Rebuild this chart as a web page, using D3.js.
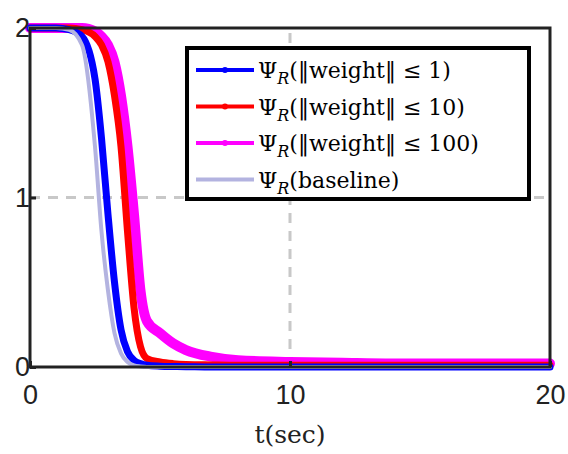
<!DOCTYPE html><html><head><meta charset="utf-8"><script src="https://cdn.jsdelivr.net/npm/d3@7"></script>
<style>body{margin:0;background:#fff}</style></head><body><svg width="568" height="454"></svg>
<script>
const T=[0,0.5,1,1.5,2,2.5,2.75,3,3.25,3.5,3.75,4,4.25,4.5,5,5.5,6,7,8,10,12,15,20];
const baseline=[2,2,2,1.99,1.9,1.3,0.8,0.45,0.2,0.08,0.03,0.01,0.003,0,0,0,0,0,0,0,0,0,0];
const w1=[2,2,2,1.99,1.95,1.7,1.35,0.9,0.5,0.22,0.09,0.04,0.02,0.01,0.005,0.003,0.002,0,0,0,0,0,0];
const w10=[2,2,2,2,1.99,1.95,1.9,1.8,1.6,1.3,0.8,0.35,0.12,0.05,0.03,0.02,0.015,0.012,0.01,0.01,0.01,0.01,0.01];
const w100=[2,2,2,2,2,1.98,1.95,1.9,1.8,1.6,1.3,0.9,0.45,0.27,0.2,0.14,0.1,0.06,0.04,0.03,0.025,0.02,0.02];
const xTicks=[0,10,20], yTicks=[0,1,2];
const series=[
 {name:"(‖weight‖ ≤ 1)",v:w1,c:"#0000ff",w:7},
 {name:"(‖weight‖ ≤ 10)",v:w10,c:"#ff0000",w:7},
 {name:"(‖weight‖ ≤ 100)",v:w100,c:"#ff00ff",w:10},
 {name:"(baseline)",v:baseline,c:"#b3b3e0",w:4}];
const SERIF="DejaVu Serif";
const svg=d3.select("svg");
const x=d3.scaleLinear().domain([0,20]).range([30,550]);
const y=d3.scaleLinear().domain([0,2]).range([367,28]);
svg.append("line").attr("x1",x(0)).attr("x2",x(20)).attr("y1",y(1)).attr("y2",y(1)).attr("stroke","#c8c8c8").attr("stroke-width",3).attr("stroke-dasharray","10,8");
svg.append("line").attr("x1",x(10)).attr("x2",x(10)).attr("y1",y(0)).attr("y2",y(2)).attr("stroke","#c8c8c8").attr("stroke-width",3).attr("stroke-dasharray","10,8");
const line=d3.line().x((d,i)=>x(T[i])).y(d=>y(d)).curve(d3.curveMonotoneX);
[2,1,0,3].forEach(k=>{const s=series[k];svg.append("path").attr("d",line(s.v)).attr("fill","none").attr("stroke",s.c).attr("stroke-width",s.w).attr("stroke-linejoin","round").attr("stroke-linecap","round");});
svg.append("rect").attr("x",x(0)).attr("y",y(2)).attr("width",x(20)-x(0)).attr("height",y(0)-y(2)).attr("fill","none").attr("stroke","#222").attr("stroke-width",3);
const gx=svg.append("g").attr("transform",`translate(0,${y(0)})`).call(d3.axisBottom(x).tickValues(xTicks).tickSize(-6).tickPadding(18).tickFormat(d3.format("d")));
const gy=svg.append("g").attr("transform",`translate(${x(0)},0)`).call(d3.axisLeft(y).tickValues(yTicks).tickSize(-6).tickPadding(6).tickFormat(d3.format("d")));
[gx,gy].forEach(g=>{g.select(".domain").remove();g.selectAll("line").attr("stroke","#222").attr("stroke-width",3);g.selectAll("text").attr("font-family","Liberation Sans").attr("font-size",27).attr("fill","#222");});
gy.selectAll("text").attr("dx",6);
svg.append("text").attr("x",x(10)).attr("y",443).attr("text-anchor","middle").attr("font-family",SERIF).attr("font-size",25).attr("fill","#222").text("t(sec)");
const lg=svg.append("g");
lg.append("rect").attr("x",187).attr("y",48).attr("width",342).attr("height",151).attr("fill","#fff").attr("stroke","#000").attr("stroke-width",4);
series.forEach((s,i)=>{const yy=70+i*36.5;
 lg.append("line").attr("x1",196).attr("x2",254).attr("y1",yy).attr("y2",yy).attr("stroke",s.c).attr("stroke-width",4);
 if(i<3) lg.append("circle").attr("cx",225).attr("cy",yy).attr("r",3).attr("fill",s.c);
 const t=lg.append("text").attr("x",258).attr("y",yy+8).attr("font-family",SERIF).attr("font-size",22).attr("textLength",null);
 t.append("tspan").text("Ψ");t.append("tspan").attr("font-style","italic").attr("font-size",16).attr("dy",6).text("R");
 t.append("tspan").attr("dy",-6).text(s.name);});
</script></body></html>
